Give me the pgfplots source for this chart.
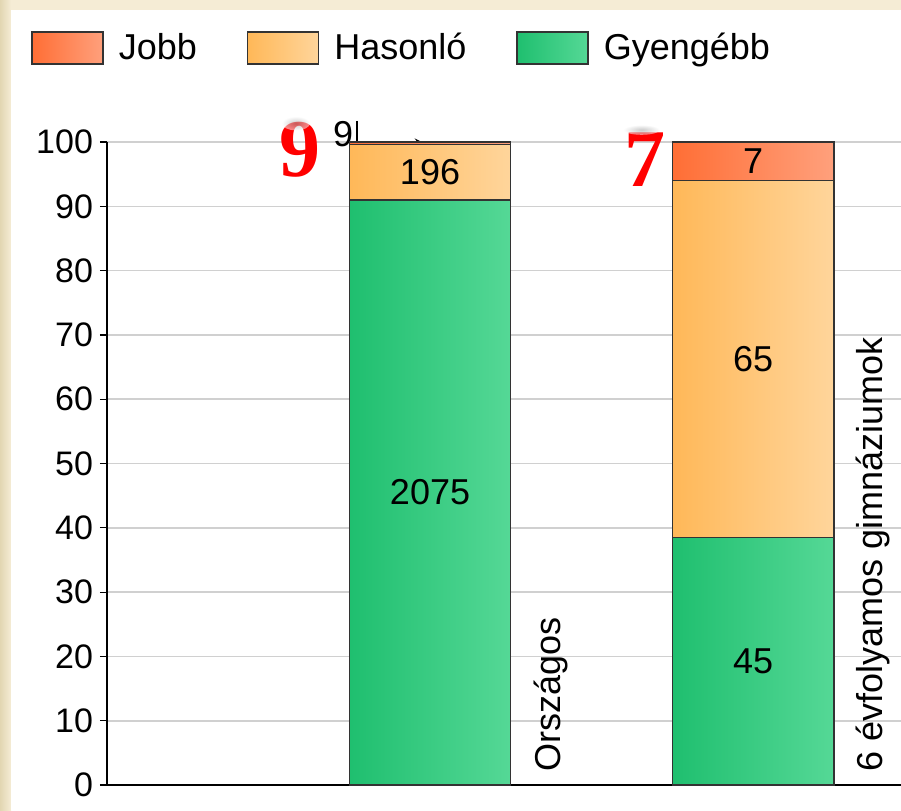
\documentclass[border=0pt]{standalone}
\usepackage{fontspec}
\setmainfont{Liberation Sans}
\newfontfamily\bigserif{Liberation Serif}
\usepackage{pgfplots}
\pgfplotsset{compat=1.18}
\usepackage{pgfplotstable}

\definecolor{beige}{HTML}{F5ECD5}
\definecolor{beigedark}{HTML}{E2D6B2}
\definecolor{gridgray}{HTML}{D0D0D0}
\definecolor{edge}{HTML}{333333}
\definecolor{grL}{HTML}{1FBF6F}
\definecolor{grR}{HTML}{55D896}
\definecolor{orL}{HTML}{FFB858}
\definecolor{orR}{HTML}{FFD59B}
\definecolor{rdL}{HTML}{FF6E35}
\definecolor{rdR}{HTML}{FFA07C}

% shares in percent, labels are the counts
\pgfplotstableread{
x y lbl
1 91.01 2075
2 38.46 45
}\gyengebb
\pgfplotstableread{
x y lbl
1 8.60 196
2 55.56 65
}\hasonlo
\pgfplotstableread{
x y lbl
1 0.39 {}
2 5.98 7
}\jobb

\tikzset{
  bignum/.style={font=\bigserif\bfseries\fontsize{41}{41}\selectfont,text=red},
  blur/.style={inner color=gray!75,outer color=white,opacity=0.55},
}
\pgfplotsset{
  base/.style={
    at={(53.5pt,-392.5pt)},anchor=south west,
    scale only axis,width=397pt,height=321.5pt,
    xmin=0,xmax=2.458,ymin=0,ymax=100,
    ybar stacked,bar width=0.5,clip=false,
    point meta=explicit symbolic,
    nodes near coords,
    every node near coord/.append style={anchor=center,black,
      font=\fontsize{18}{18}\selectfont},
  },
  gy/.style={draw=edge,line width=0.7pt,left color=grL,right color=grR},
  ha/.style={draw=edge,line width=0.7pt,left color=orL,right color=orR},
  jo/.style={draw=edge,line width=0.7pt,left color=rdL,right color=rdR},
}

\begin{document}
\begin{tikzpicture}
% frame
\fill[beige] (0,0) rectangle (450.5pt,-405pt);
\shade[left color=beigedark,right color=beige] (0,0) rectangle (5.5pt,-405pt);
\fill[white] (5.5pt,-5pt) rectangle (450.5pt,-405pt);

\begin{axis}[base,
  axis lines*=left,
  axis line style={black,line width=0.7pt},
  ytick={0,10,...,100},
  ymajorgrids,grid style={gridgray,line width=0.8pt},
  y tick style={black,line width=0.6pt},
  tick align=outside,major tick length=3.5pt,
  xtick={1.365,2.362},
  xticklabels={Országos,6 évfolyamos gimnáziumok},
  x tick style={draw=none},
  x tick label style={font=\fontsize{18}{18}\selectfont,rotate=90,anchor=west,
    inner sep=0pt,xshift=10pt,yshift=-1.5pt},
  y tick label style={font=\fontsize{17}{17}\selectfont},
  /pgf/number format/assume math mode=true,
  reverse legend,
  legend columns=3,
  legend style={at={(-0.0957,1.1726)},anchor=north west,draw=none,fill=none,
    inner sep=0pt,font=\fontsize{18}{18}\selectfont,
    nodes={inner sep=0pt},
    /tikz/every odd column/.append style={column sep=7.5pt},
    /tikz/every even column/.append style={column sep=25pt}},
  legend image code/.code={\draw[#1] (0pt,-8pt) rectangle (35.5pt,8pt);},
]
\addplot[gy] table[x=x,y=y,meta=lbl,skip coords between index={1}{2}]{\gyengebb};
\addplot[ha] table[x=x,y=y,meta=lbl,skip coords between index={1}{2}]{\hasonlo};
\addplot[jo] table[x=x,y=y,meta=lbl,skip coords between index={1}{2}]{\jobb};
\legend{Gyengébb,Hasonló,Jobb}

% label of the thin top segment
\node[font=\fontsize{18}{18}\selectfont,anchor=center] at (axis cs:0.731,101.2) {9};
\draw[black,line width=0.6pt] (axis cs:0.774,103.3) -- (axis cs:0.774,96.7);
\draw[black,line width=0.6pt,-stealth] (axis cs:0.774,100) -- (axis cs:0.975,100);

% big red marks with a soft shadow above
\shade[blur] (axis cs:0.585,102.9) ellipse [x radius=7pt,y radius=3.5pt];
\shade[blur] (axis cs:1.655,101.9) ellipse [x radius=9pt,y radius=2.5pt];
\node[bignum] at (axis cs:0.5975,98.75) {9};
\node[bignum] at (axis cs:1.666,97.2) {7};
\end{axis}

\begin{axis}[base,hide axis]
\addplot[gy] table[x=x,y=y,meta=lbl,skip coords between index={0}{1}]{\gyengebb};
\addplot[ha] table[x=x,y=y,meta=lbl,skip coords between index={0}{1}]{\hasonlo};
\addplot[jo] table[x=x,y=y,meta=lbl,skip coords between index={0}{1}]{\jobb};
\end{axis}
\pgfresetboundingbox
\useasboundingbox (0,0) rectangle (450.5pt,-405pt);
\end{tikzpicture}
\end{document}
